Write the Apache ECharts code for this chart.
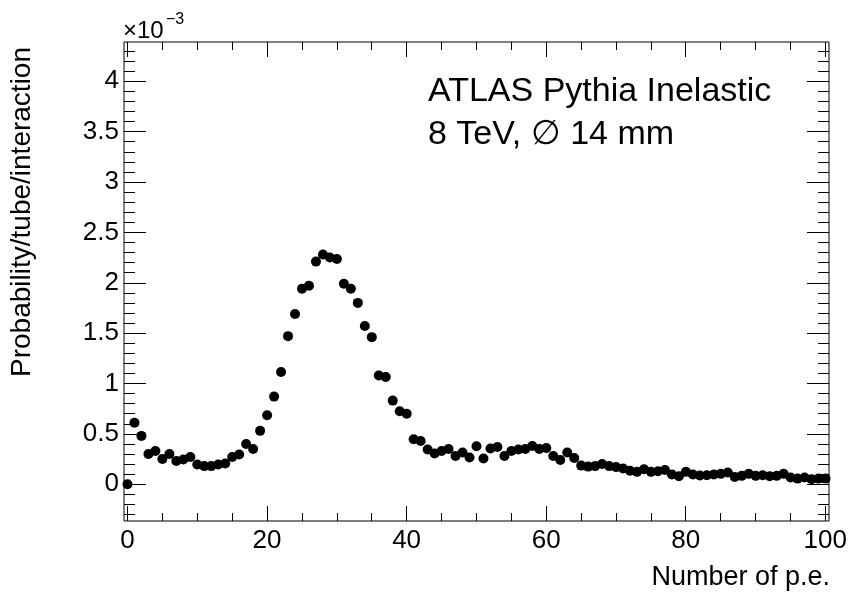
<!DOCTYPE html>
<html>
<head>
<meta charset="utf-8">
<title>Number of p.e.</title>
<script src="https://cdn.jsdelivr.net/npm/echarts@6/dist/echarts.min.js"></script>
<style>
  html, body { margin: 0; padding: 0; background: #fff; }
  #chart { width: 850px; height: 601px; }
</style>
</head>
<body>
<div id="chart"></div>
<script>
// bin centres (number of photo-electrons)
const binCenters = [
  0, 1, 2, 3, 4, 5, 6, 7, 8, 9,
  10, 11, 12, 13, 14, 15, 16, 17, 18, 19,
  20, 21, 22, 23, 24, 25, 26, 27, 28, 29,
  30, 31, 32, 33, 34, 35, 36, 37, 38, 39,
  40, 41, 42, 43, 44, 45, 46, 47, 48, 49,
  50, 51, 52, 53, 54, 55, 56, 57, 58, 59,
  60, 61, 62, 63, 64, 65, 66, 67, 68, 69,
  70, 71, 72, 73, 74, 75, 76, 77, 78, 79,
  80, 81, 82, 83, 84, 85, 86, 87, 88, 89,
  90, 91, 92, 93, 94, 95, 96, 97, 98, 99,
  100
];

// probability per tube per interaction, in units of 1e-3
const probability = [
  0.000, 0.610, 0.480, 0.300, 0.330, 0.250, 0.300, 0.230, 0.245, 0.270,
  0.195, 0.180, 0.180, 0.195, 0.205, 0.270, 0.295, 0.400, 0.350, 0.530,
  0.685, 0.870, 1.115, 1.470, 1.690, 1.940, 1.970, 2.210, 2.280, 2.250,
  2.235, 1.990, 1.940, 1.800, 1.570, 1.460, 1.080, 1.065, 0.830, 0.725,
  0.700, 0.447, 0.430, 0.345, 0.305, 0.330, 0.350, 0.280, 0.315, 0.265,
  0.377, 0.255, 0.355, 0.370, 0.280, 0.330, 0.345, 0.350, 0.380, 0.350,
  0.360, 0.280, 0.240, 0.315, 0.260, 0.185, 0.175, 0.180, 0.200, 0.180,
  0.170, 0.156, 0.133, 0.123, 0.149, 0.123, 0.129, 0.142, 0.096, 0.080,
  0.123, 0.096, 0.087, 0.090, 0.096, 0.103, 0.116, 0.073, 0.083, 0.103,
  0.083, 0.090, 0.080, 0.083, 0.103, 0.066, 0.056, 0.066, 0.050, 0.056,
  0.056
];

const xTitle = 'Number of p.e.';
const yTitle = 'Probability/tube/interaction';
const labelLines = ['ATLAS Pythia Inelastic', '8 TeV, \u2205 14 mm'];

// visible axis ranges (frame) and tick ranges
const X_MIN = -0.5, X_MAX = 100.5;
const Y_MIN = -0.365, Y_MAX = 4.39;
const X_TICK = [0, 100];      // major 20, minor 5
const Y_MAJOR = [0, 4];       // major 0.5
const Y_MINOR = [-0.3, 4.3];  // minor 0.1

const points = binCenters.map((x, i) => [x, probability[i]]);

// frame in pixels
const F = { left: 124, top: 42, right: 829, bottom: 521 };
const W = 850, H = 601;
const px = v => F.left + (v - X_MIN) / (X_MAX - X_MIN) * (F.right - F.left);
const py = v => F.bottom - (v - Y_MIN) / (Y_MAX - Y_MIN) * (F.bottom - F.top);

const chart = echarts.init(document.getElementById('chart'), null, { renderer: 'canvas' });

const font = 'Liberation Sans, Arial, Helvetica, sans-serif';
const black = '#000';

const hidden = gridIndex => ({ type: 'value', gridIndex, show: false, min: 0, max: 1 });

function tickAxis(gridIndex, position, range, interval, tickLen, showLabel, margin, minor) {
  return {
    type: 'value', gridIndex, position, min: range[0], max: range[1], interval,
    axisLine: { show: false, onZero: false },
    axisTick: { show: true, inside: true, length: tickLen, lineStyle: { color: black, width: 1 } },
    minorTick: minor
      ? { show: true, splitNumber: minor.split, length: minor.len, lineStyle: { color: black, width: 1 } }
      : { show: false },
    axisLabel: { show: showLabel, color: black, fontSize: 26, fontFamily: font, margin },
    splitLine: { show: false },
    minorSplitLine: { show: false }
  };
}

const option = {
  animation: false,
  backgroundColor: '#fff',
  grid: [
    // 0: data frame
    { left: F.left, right: W - F.right, top: F.top, bottom: H - F.bottom,
      show: true, borderColor: black, borderWidth: 1, backgroundColor: 'transparent' },
    // 1: x ticks (0..100)
    { left: px(X_TICK[0]), right: W - px(X_TICK[1]), top: F.top, bottom: H - F.bottom },
    // 2: y major ticks (0..4)
    { left: F.left, right: W - F.right, top: py(Y_MAJOR[1]), bottom: H - py(Y_MAJOR[0]) },
    // 3: y minor ticks (-0.3..4.3)
    { left: F.left, right: W - F.right, top: py(Y_MINOR[1]), bottom: H - py(Y_MINOR[0]) }
  ],
  xAxis: [
    { type: 'value', gridIndex: 0, show: false, min: X_MIN, max: X_MAX },
    tickAxis(1, 'bottom', X_TICK, 20, 15, true, 7, { split: 4, len: 8 }),
    tickAxis(1, 'top', X_TICK, 20, 15, false, 0, { split: 4, len: 8 }),
    hidden(2),
    hidden(3)
  ],
  yAxis: [
    { type: 'value', gridIndex: 0, show: false, min: Y_MIN, max: Y_MAX },
    hidden(1),
    tickAxis(2, 'left', Y_MAJOR, 0.5, 22, true, 5, null),
    tickAxis(2, 'right', Y_MAJOR, 0.5, 22, false, 0, null),
    tickAxis(3, 'left', Y_MINOR, 0.1, 11, false, 0, null),
    tickAxis(3, 'right', Y_MINOR, 0.1, 11, false, 0, null)
  ],
  series: [{
    type: 'scatter',
    xAxisIndex: 0,
    yAxisIndex: 0,
    data: points,
    symbol: 'circle',
    symbolSize: 10,
    itemStyle: { color: black, opacity: 1 }
  }],
  graphic: [
    {
      type: 'text', x: 123, y: 31,
      style: { text: '\u00d710', fill: black, font: '24px ' + font, textAlign: 'left', textVerticalAlign: 'middle' }
    },
    {
      type: 'text', x: 166, y: 20,
      style: { text: '\u22123', fill: black, font: '16px ' + font, textAlign: 'left', textVerticalAlign: 'middle' }
    },
    {
      type: 'text', x: 428, y: 92,
      style: { text: labelLines[0], fill: black, font: '34px ' + font, textAlign: 'left', textVerticalAlign: 'middle' }
    },
    {
      type: 'text', x: 428, y: 135,
      style: { text: labelLines[1], fill: black, font: '34px ' + font, textAlign: 'left', textVerticalAlign: 'middle' }
    },
    {
      type: 'text', x: 830, y: 578,
      style: { text: xTitle, fill: black, font: '27px ' + font, textAlign: 'right', textVerticalAlign: 'middle' }
    },
    {
      type: 'text', x: 22, y: 47, rotation: Math.PI / 2,
      style: { text: yTitle, fill: black, font: '28px ' + font, textAlign: 'right', textVerticalAlign: 'middle' }
    }
  ]
};

chart.setOption(option);
window.addEventListener('resize', () => chart.resize());
</script>
</body>
</html>
